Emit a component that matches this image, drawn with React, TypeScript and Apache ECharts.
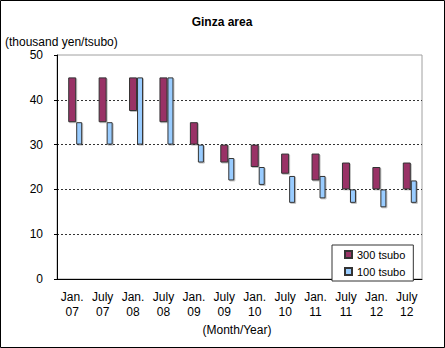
import React, { useEffect, useRef } from "react";
import * as echarts from "echarts";

const categories = ["Jan.\n07", "July\n07", "Jan.\n08", "July\n08", "Jan.\n09", "July\n09", "Jan.\n10", "July\n10", "Jan.\n11", "July\n11", "Jan.\n12", "July\n12"];
const high300 = [45, 45, 45, 45, 35, 30, 30, 28, 28, 26, 25, 26];
const low300 = [35, 35, 37.5, 35, 30, 26, 25, 23.5, 22, 20, 20, 20];
const high100 = [35, 35, 45, 45, 30, 27, 25, 23, 23, 20, 20, 22];
const low100 = [30, 30, 30, 30, 26, 22, 21, 17, 18, 17, 16, 17];
const yTicks = [0, 10, 20, 30, 40, 50];

const FONT = "'Liberation Sans', Arial, sans-serif";

export default function App() {
  const ref = useRef<HTMLDivElement>(null);
  useEffect(() => {
    const chart = echarts.init(ref.current!, undefined, { renderer: "svg" });
    const barStyle = (color: string) => ({
      color,
      borderColor: "#333",
      borderWidth: 1,
      shadowColor: "rgba(0,0,0,0.25)",
      shadowOffsetX: 1,
      shadowOffsetY: 1,
      shadowBlur: 1,
    });
    chart.setOption({
      animation: false,
      backgroundColor: "#fff",
      textStyle: { fontFamily: FONT },
      grid: {
        left: 57,
        right: 23,
        top: 55,
        bottom: 69,
        show: true,
        borderColor: "#a0a0a0",
        borderWidth: 1,
        backgroundColor: "#fff",
      },
      legend: {
        orient: "vertical",
        left: 332,
        top: 245,
        data: ["300 tsubo", "100 tsubo"],
        backgroundColor: "#fff",
        borderColor: "#333",
        borderWidth: 1,
        padding: [3, 8, 3, 12],
        itemWidth: 7,
        itemHeight: 7,
        itemGap: 4,
        icon: "rect",
        textStyle: { fontFamily: FONT, fontSize: 11, color: "#000", lineHeight: 13 },
        z: 10,
      },
      xAxis: {
        type: "category",
        data: categories,
        axisLine: { lineStyle: { color: "#000", width: 1 } },
        axisTick: { inside: true, length: 3, lineStyle: { color: "#000" } },
        axisLabel: { color: "#000", fontSize: 12, lineHeight: 15, margin: 10, interval: 0, fontFamily: FONT },
        splitLine: { show: false },
      },
      yAxis: {
        type: "value",
        min: 0,
        max: 50,
        interval: 10,
        axisLine: { show: true, lineStyle: { color: "#000", width: 1 } },
        axisTick: { show: true, inside: false, length: 3, lineStyle: { color: "#000" } },
        axisLabel: { color: "#000", fontSize: 12, margin: 14, fontFamily: FONT, formatter: (v: number) => (yTicks.includes(v) ? String(v) : "") },
        splitLine: {
          show: true,
          lineStyle: {
            color: ["rgba(0,0,0,0)", "#333", "#333", "#333", "#333", "rgba(0,0,0,0)"],
            type: [2, 2],
            width: 1,
          },
        },
      },
      series: [
        {
          name: "spacer",
          type: "bar",
          stack: "d",
          barWidth: 6,
          barGap: "0%",
          data: categories.map(() => null),
          silent: true,
        },
        {
          name: "base300",
          type: "bar",
          stack: "a",
          barWidth: 8,
          barGap: "0%",
          itemStyle: { color: "rgba(0,0,0,0)" },
          data: low300,
          silent: true,
        },
        {
          name: "300 tsubo",
          type: "bar",
          stack: "a",
          barWidth: 8,
          barGap: "0%",
          itemStyle: barStyle("#993366"),
          data: high300.map((h, i) => h - low300[i]),
        },
        {
          name: "base100",
          type: "bar",
          stack: "b",
          barWidth: 6,
          barGap: "0%",
          itemStyle: { color: "rgba(0,0,0,0)" },
          data: low100,
          silent: true,
        },
        {
          name: "100 tsubo",
          type: "bar",
          stack: "b",
          barWidth: 6,
          barGap: "0%",
          itemStyle: barStyle("#99CCFF"),
          data: high100.map((h, i) => h - low100[i]),
        },
      ],
      graphic: [
        {
          type: "rect",
          shape: { x: 0.5, y: 0.5, width: 444, height: 347 },
          style: { fill: "none", stroke: "#000", lineWidth: 1 },
          silent: true,
        },
        {
          type: "text",
          x: 222,
          y: 22,
          style: { text: "Ginza area", font: `bold 12px ${FONT}`, fill: "#000", textAlign: "center", textVerticalAlign: "middle" },
        },
        {
          type: "text",
          x: 5,
          y: 42,
          style: { text: "(thousand yen/tsubo)", font: `12px ${FONT}`, fill: "#000", textAlign: "left", textVerticalAlign: "middle" },
        },
        {
          type: "text",
          x: 237,
          y: 330,
          style: { text: "(Month/Year)", font: `12px ${FONT}`, fill: "#000", textAlign: "center", textVerticalAlign: "middle" },
        },
      ],
    });
    return () => chart.dispose();
  }, []);
  return <div ref={ref} style={{ position: "absolute", left: 0, top: 0, width: 445, height: 348 }} />;
}
